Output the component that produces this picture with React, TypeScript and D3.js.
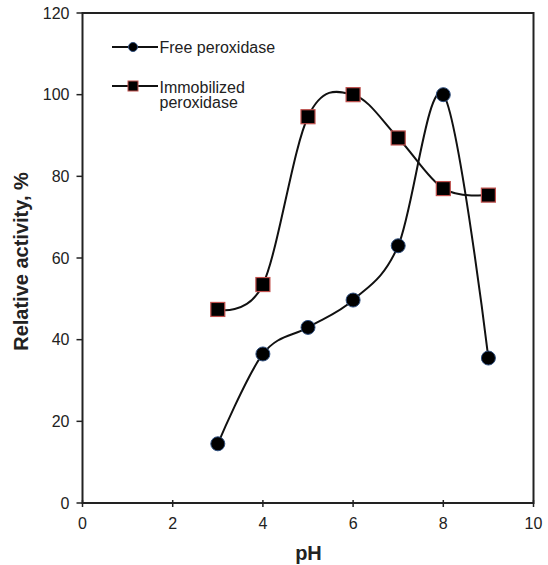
import React from "react";
import * as d3 from "d3";

const phValues = [3, 4, 5, 6, 7, 8, 9];
const freeActivity = [14.5, 36.5, 43, 49.7, 63, 100, 35.5];
const immobilizedActivity = [47.4, 53.5, 94.6, 100, 89.4, 77, 75.4];
const xTicks = [0, 2, 4, 6, 8, 10];
const yTicks = [0, 20, 40, 60, 80, 100, 120];

const W = 548;
const H = 565;
const left = 82.5;
const right = 533.5;
const top = 13;
const bottom = 503;

export default function App() {
  const x = d3.scaleLinear().domain([0, 10]).range([left, right]);
  const y = d3.scaleLinear().domain([0, 120]).range([bottom, top]);
  const line = d3
    .line<number>()
    .x((_, i) => x(phValues[i]))
    .y((d) => y(d))
    .curve(d3.curveCatmullRom.alpha(0));

  const font = "Liberation Sans, Arial, sans-serif";
  const sq = 14;

  return (
    <svg
      width={W}
      height={H}
      style={{ position: "absolute", left: 0, top: 0, background: "#fff" }}
      fontFamily={font}
    >
      <rect x={left} y={top} width={right - left} height={bottom - top} fill="none" stroke="#222" strokeWidth={2} />
      {yTicks.map((t) => (
        <g key={"y" + t}>
          <line x1={left - 6} x2={left} y1={y(t)} y2={y(t)} stroke="#222" strokeWidth={1.5} />
          <text x={left - 13} y={y(t)} dy="0.36em" textAnchor="end" fontSize={16} fill="#222">
            {t}
          </text>
        </g>
      ))}
      {xTicks.map((t) => (
        <g key={"x" + t}>
          <line x1={x(t)} x2={x(t)} y1={bottom - 3} y2={bottom + 4} stroke="#222" strokeWidth={1.5} />
          <text x={x(t)} y={529} textAnchor="middle" fontSize={16} fill="#222">
            {t}
          </text>
        </g>
      ))}
      <text x={308.5} y={560} textAnchor="middle" fontSize={20} fontWeight="bold" fill="#222">
        pH
      </text>
      <text
        transform={`translate(27.5,261.5) rotate(-90)`}
        textAnchor="middle"
        fontSize={20}
        fontWeight="bold"
        fill="#222"
      >
        Relative activity, %
      </text>

      <path d={line(freeActivity) || ""} fill="none" stroke="#111" strokeWidth={2} />
      <path d={line(immobilizedActivity) || ""} fill="none" stroke="#111" strokeWidth={2} />

      {immobilizedActivity.map((v, i) => (
        <rect
          key={"s" + i}
          x={x(phValues[i]) - sq / 2}
          y={y(v) - sq / 2}
          width={sq}
          height={sq}
          fill="#000"
          stroke="#c0504d"
          strokeWidth={1.2}
        />
      ))}
      {freeActivity.map((v, i) => (
        <circle key={"c" + i} cx={x(phValues[i])} cy={y(v)} r={7} fill="#000" stroke="#2f4f7f" strokeWidth={1} />
      ))}

      {/* legend */}
      <line x1={112} x2={158} y1={47} y2={47} stroke="#111" strokeWidth={2} />
      <circle cx={133} cy={47} r={4.5} fill="#000" stroke="#2f4f7f" strokeWidth={1} />
      <text x={159.5} y={53} fontSize={16} fill="#222">
        Free peroxidase
      </text>
      <line x1={112} x2={158} y1={86} y2={86} stroke="#111" strokeWidth={2} />
      <rect x={128} y={81} width={10} height={10} fill="#000" stroke="#c0504d" strokeWidth={1} />
      <text x={159.5} y={92.5} fontSize={16} fill="#222">
        Immobilized
      </text>
      <text x={159.5} y={108} fontSize={16} fill="#222">
        peroxidase
      </text>
    </svg>
  );
}
